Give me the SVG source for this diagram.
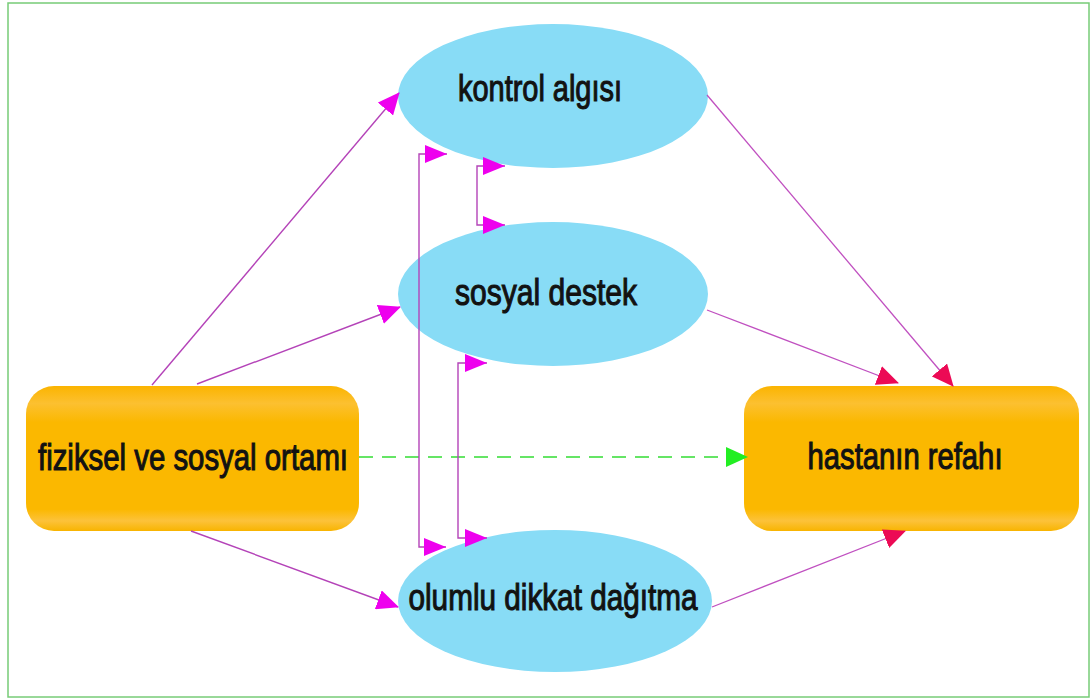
<svg xmlns="http://www.w3.org/2000/svg" width="1092" height="700" viewBox="0 0 1092 700">
<defs>
<style>
.ell{fill:#88dcf6;}
.box{fill:#fbb800;}
.lbl{font-family:"Liberation Sans",Arial,sans-serif;font-size:37px;fill:#121212;stroke:#121212;stroke-width:1.1;text-anchor:middle;}
.ln{fill:none;stroke:#b443b8;stroke-width:1.4;}
.lnr{fill:none;stroke:#c050c0;stroke-width:1.3;}
.dash{fill:none;stroke:#33dd33;stroke-width:1.5;stroke-dasharray:14 9;}
</style>
<marker id="mg" markerUnits="userSpaceOnUse" markerWidth="22" markerHeight="20" viewBox="0 0 22 20" refX="21" refY="10" orient="auto">
<path d="M0,0 L22,10 L0,20 Z" fill="#ee00ee"/>
</marker>
<marker id="rd" markerUnits="userSpaceOnUse" markerWidth="22" markerHeight="20" viewBox="0 0 22 20" refX="21" refY="10" orient="auto">
<path d="M0,0 L22,10 L0,20 Z" fill="#ec0a55"/>
</marker>
<marker id="gr" markerUnits="userSpaceOnUse" markerWidth="22" markerHeight="20" viewBox="0 0 22 20" refX="21" refY="10" orient="auto">
<path d="M0,0 L22,10 L0,20 Z" fill="#22ee22"/>
</marker>
<linearGradient id="og" x1="0" y1="0" x2="0" y2="1">
<stop offset="0" stop-color="#fbb400"/>
<stop offset="0.12" stop-color="#fcc030"/>
<stop offset="0.25" stop-color="#fbb800"/>
<stop offset="0.85" stop-color="#fbb800"/>
<stop offset="0.93" stop-color="#fcc23a"/>
<stop offset="1" stop-color="#f8b400"/>
</linearGradient>
</defs>
<rect x="0" y="0" width="1092" height="700" fill="#ffffff"/>
<rect x="8" y="3" width="1081" height="694" fill="none" stroke="#77cc77" stroke-width="1.5"/>

<g id="kontrol">
<ellipse class="ell" cx="553" cy="96" rx="155" ry="72"/>
<text class="lbl" x="540" y="101" textLength="164" lengthAdjust="spacingAndGlyphs">kontrol algısı</text>
</g>
<g id="sosyal">
<ellipse class="ell" cx="553" cy="294" rx="155" ry="72"/>
<text class="lbl" x="546" y="305" textLength="182" lengthAdjust="spacingAndGlyphs">sosyal destek</text>
</g>
<g id="olumlu">
<ellipse class="ell" cx="555" cy="601" rx="157" ry="71"/>
<text class="lbl" x="553" y="610" textLength="289" lengthAdjust="spacingAndGlyphs">olumlu dikkat dağıtma</text>
</g>
<g id="fiziksel">
<rect class="box" x="26" y="386" width="333" height="145" rx="28" style="fill:url(#og)"/>
<text class="lbl" x="193" y="470" textLength="310" lengthAdjust="spacingAndGlyphs">fiziksel ve sosyal ortamı</text>
</g>
<g id="hasta">
<rect class="box" x="744" y="386" width="335" height="145" rx="28" style="fill:url(#og)"/>
<text class="lbl" x="905" y="469" textLength="195" lengthAdjust="spacingAndGlyphs">hastanın refahı</text>
</g>

<g id="connectors">
<line class="ln" x1="152" y1="385" x2="399" y2="93" marker-end="url(#mg)"/>
<line class="ln" x1="197" y1="384" x2="400" y2="307" marker-end="url(#mg)"/>
<line class="ln" x1="191" y1="531" x2="398" y2="607" marker-end="url(#mg)"/>
<line class="lnr" x1="707" y1="95" x2="953" y2="386" marker-end="url(#rd)"/>
<line class="lnr" x1="707" y1="310" x2="898" y2="383" marker-end="url(#rd)"/>
<line class="lnr" x1="712" y1="607" x2="905" y2="531" marker-end="url(#rd)"/>
<line class="dash" x1="359" y1="457" x2="747" y2="457" marker-end="url(#gr)"/>
<path class="ln" d="M447,154 L419,154 L419,547 L446,547"/>
<path d="M425,145 L447,154 L425,163 Z" fill="#ee00ee"/>
<path d="M424,538 L446,547 L424,556 Z" fill="#ee00ee"/>
<path class="ln" d="M505,166 L477,166 L477,225 L505,225"/>
<path d="M483,157 L505,166 L483,175 Z" fill="#ee00ee"/>
<path d="M483,216 L505,225 L483,234 Z" fill="#ee00ee"/>
<path class="ln" d="M487,363 L458,363 L458,538 L487,538"/>
<path d="M465,354 L487,363 L465,372 Z" fill="#ee00ee"/>
<path d="M465,529 L487,538 L465,547 Z" fill="#ee00ee"/>
</g>
</svg>
